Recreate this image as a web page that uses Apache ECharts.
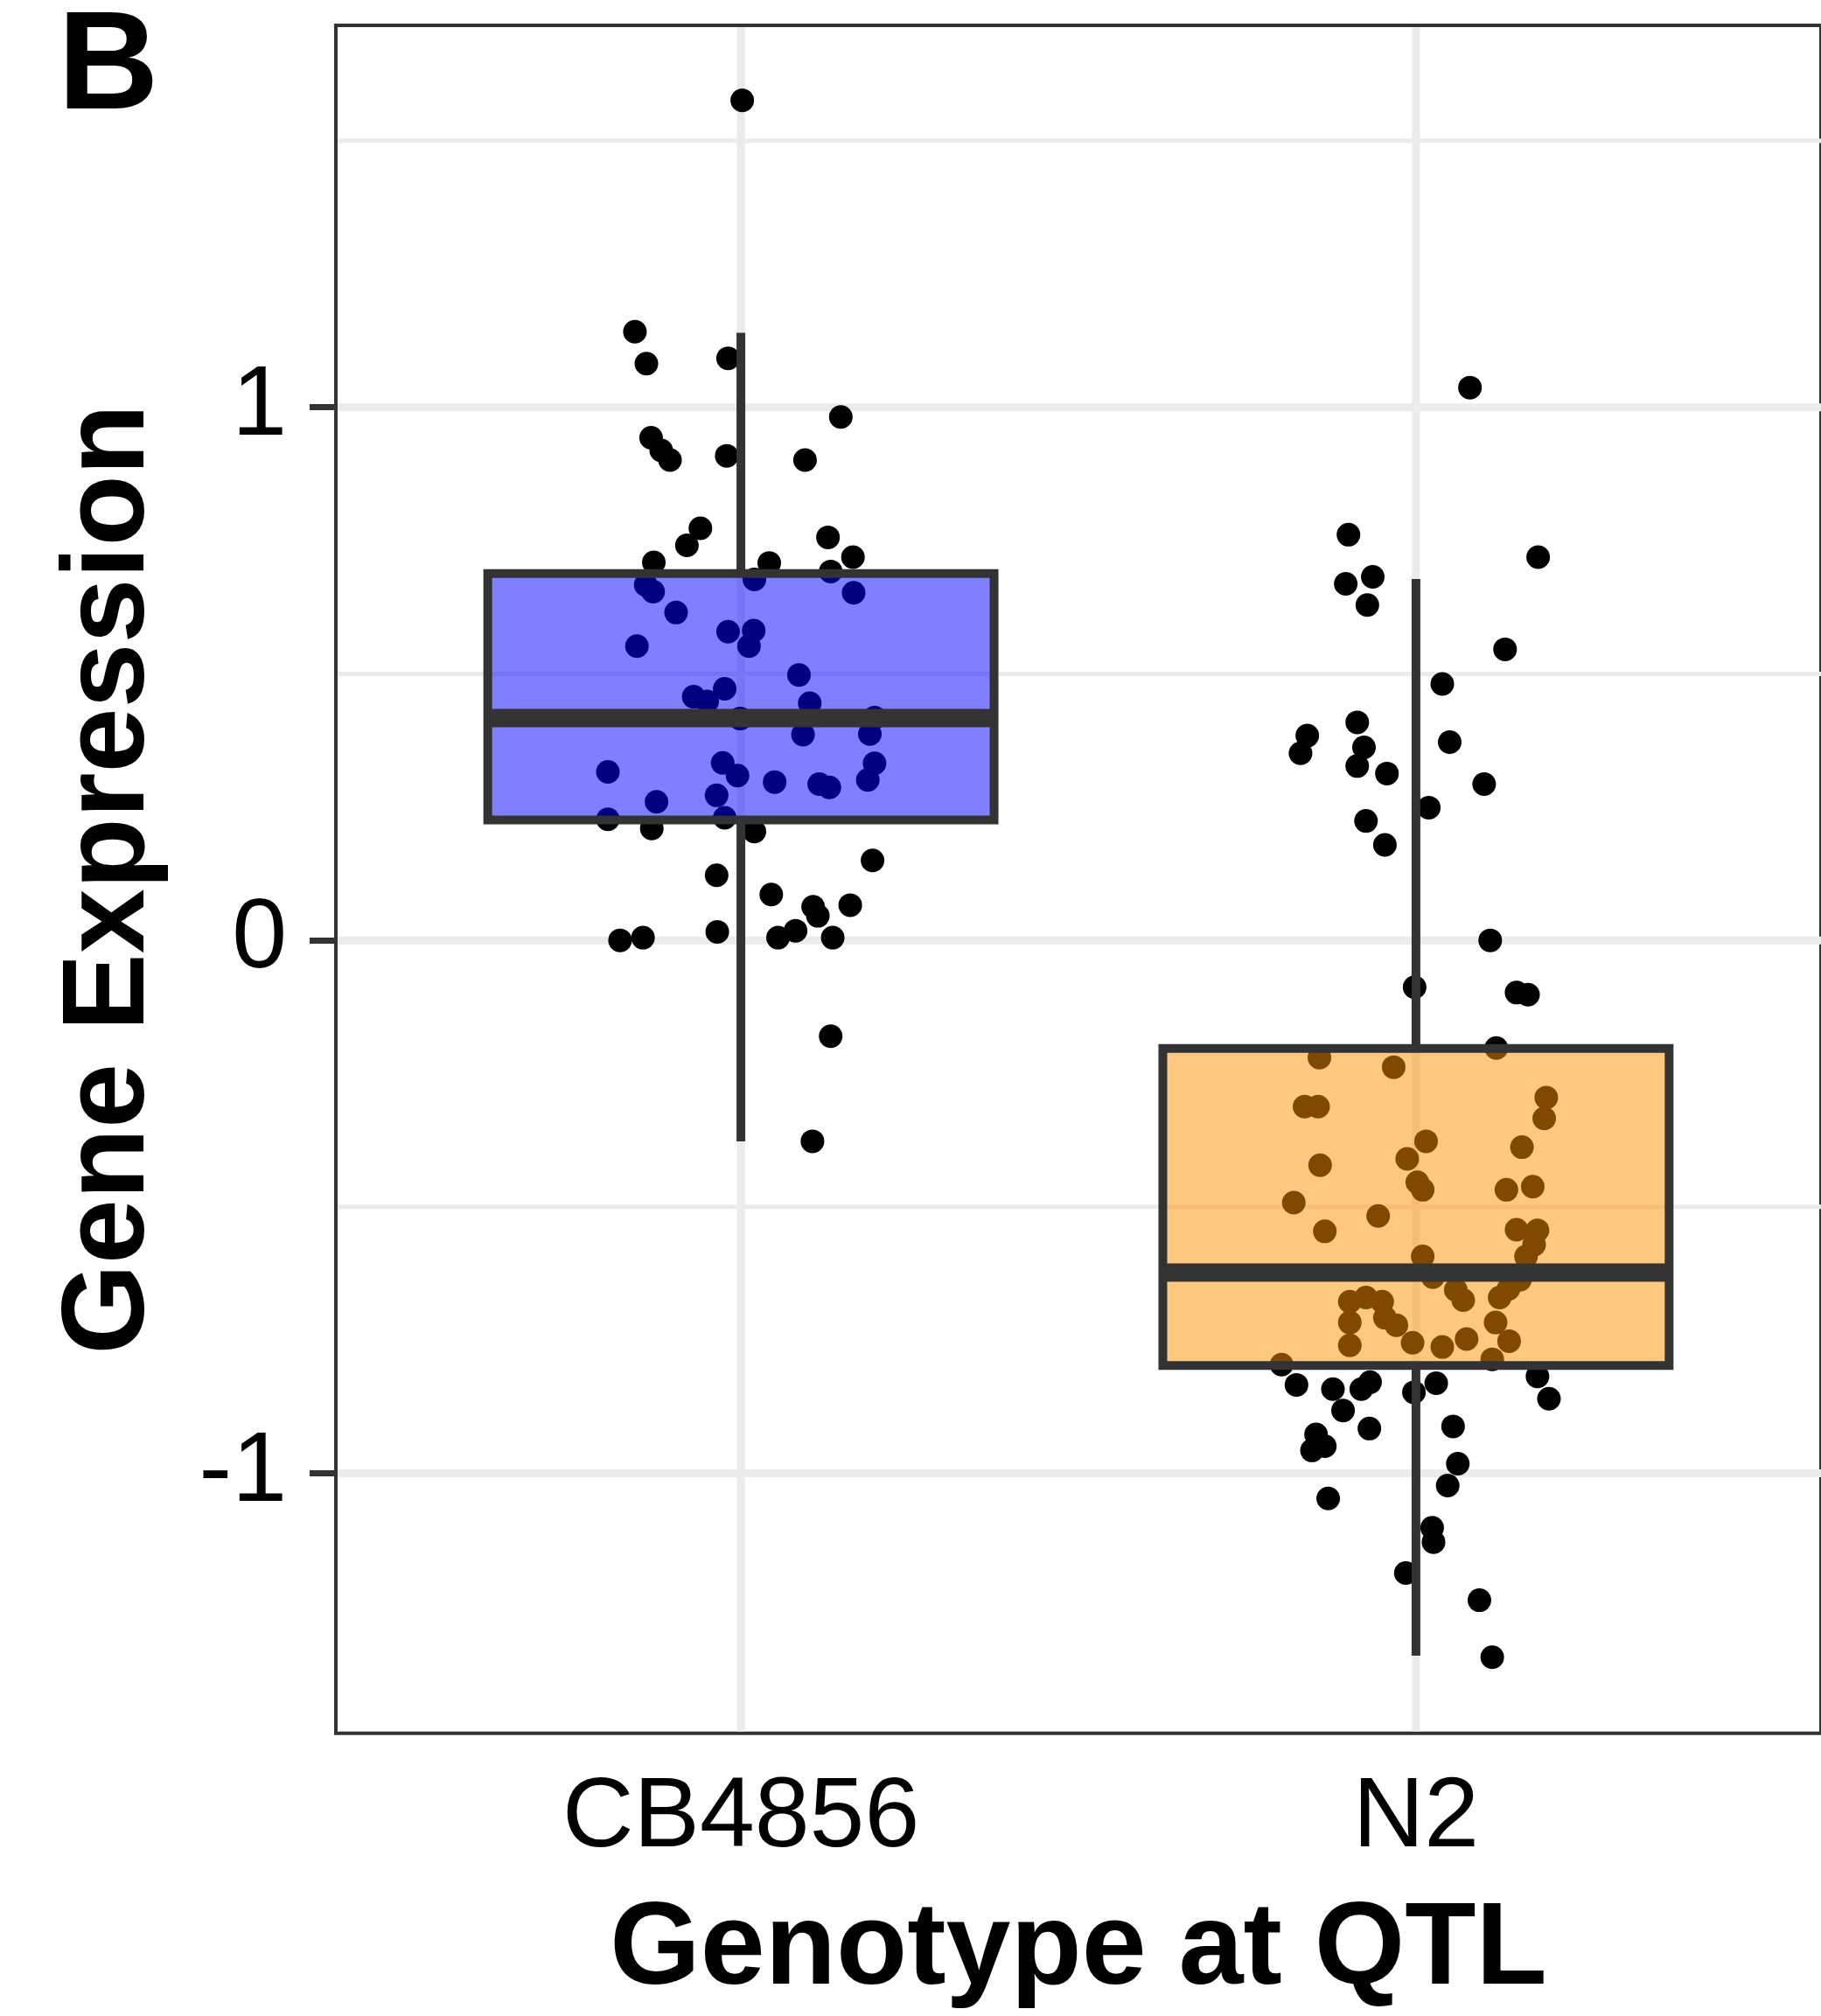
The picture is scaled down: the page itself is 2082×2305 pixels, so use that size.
<!DOCTYPE html>
<html><head><meta charset="utf-8">
<script src="https://cdn.jsdelivr.net/npm/echarts@6/dist/echarts.min.js"></script>
<style>html,body{margin:0;padding:0;background:#fff}#c{width:2082px;height:2305px}</style>
</head><body><div id="c"></div>
<script>
const categories = ['CB4856', 'N2'];
const xTickValues = [1, 2];
const yTickValues = [-1, 0, 1];
const yMinorValues = [-0.5, 0.5, 1.5];
// [lower whisker, Q1, median, Q3, upper whisker]
const cbBox = [-0.377, 0.226, 0.417, 0.688, 1.140];
const n2Box = [-1.342, -0.7975, -0.6235, -0.203, 0.678];
// [horizontal jitter from category centre, gene expression]
const cbPoints = [
  [0.002, 1.576], [-0.157, 1.142], [-0.140, 1.082], [-0.019, 1.092], [0.148, 0.982],
  [-0.133, 0.943], [-0.118, 0.919], [-0.105, 0.901], [-0.021, 0.909], [0.095, 0.901],
  [-0.060, 0.773], [-0.080, 0.741], [-0.129, 0.709], [0.042, 0.708], [0.129, 0.756],
  [0.166, 0.719], [0.133, 0.692], [-0.141, 0.667], [-0.130, 0.654], [0.020, 0.677],
  [0.167, 0.652], [-0.096, 0.615], [-0.019, 0.579], [0.019, 0.581], [0.012, 0.552],
  [-0.154, 0.552], [0.086, 0.498], [-0.024, 0.472], [-0.070, 0.457], [-0.050, 0.448],
  [0.102, 0.445], [-0.001, 0.416], [0.198, 0.418], [0.092, 0.386], [0.191, 0.387],
  [-0.027, 0.333], [-0.005, 0.309], [0.198, 0.332], [0.188, 0.301], [-0.197, 0.316],
  [0.050, 0.297], [0.116, 0.293], [0.131, 0.287], [-0.125, 0.260], [-0.036, 0.272],
  [-0.197, 0.227], [-0.132, 0.210], [-0.024, 0.230], [0.020, 0.204], [0.195, 0.150],
  [-0.036, 0.122], [0.045, 0.086], [0.107, 0.063], [0.114, 0.046], [0.162, 0.066],
  [-0.179, 0.000], [-0.145, 0.005], [-0.035, 0.016], [0.055, 0.005], [0.081, 0.018],
  [0.136, 0.005], [0.133, -0.180], [0.106, -0.377]
];
const n2Points = [
  [0.080, 1.037], [-0.100, 0.761], [0.181, 0.719], [-0.104, 0.669], [-0.064, 0.682],
  [-0.072, 0.629], [0.132, 0.546], [0.039, 0.481], [-0.087, 0.409], [-0.161, 0.384],
  [-0.171, 0.351], [-0.077, 0.362], [-0.087, 0.327], [-0.043, 0.313], [0.050, 0.372],
  [0.101, 0.293], [0.019, 0.249], [-0.074, 0.224], [-0.046, 0.179], [0.110, 0.000],
  [-0.002, -0.088], [0.149, -0.098], [0.166, -0.102], [0.119, -0.202], [-0.143, -0.220],
  [-0.033, -0.238], [-0.165, -0.312], [-0.145, -0.312], [0.193, -0.295], [0.190, -0.334],
  [0.015, -0.377], [-0.013, -0.410], [0.157, -0.388], [-0.142, -0.422], [0.002, -0.454],
  [0.010, -0.468], [0.134, -0.468], [0.173, -0.462], [-0.181, -0.492], [-0.056, -0.517],
  [-0.135, -0.546], [0.149, -0.543], [0.180, -0.544], [0.175, -0.571], [0.163, -0.593],
  [0.010, -0.593], [0.025, -0.632], [0.154, -0.637], [0.059, -0.656], [0.070, -0.675],
  [0.137, -0.654], [0.124, -0.670], [-0.098, -0.678], [-0.074, -0.670], [-0.050, -0.678],
  [-0.098, -0.717], [-0.046, -0.708], [-0.029, -0.722], [-0.005, -0.755], [0.039, -0.763],
  [0.075, -0.748], [0.118, -0.717], [0.138, -0.752], [-0.098, -0.760], [0.113, -0.786],
  [-0.199, -0.796], [-0.177, -0.834], [-0.123, -0.842], [-0.068, -0.829], [-0.081, -0.842],
  [-0.108, -0.882], [-0.069, -0.916], [-0.003, -0.848], [0.030, -0.831], [0.180, -0.818],
  [0.197, -0.860], [0.055, -0.912], [-0.148, -0.927], [-0.135, -0.949], [-0.154, -0.957],
  [-0.130, -1.047], [0.062, -0.982], [0.047, -1.023], [0.024, -1.102], [0.026, -1.129],
  [-0.015, -1.187], [0.094, -1.238], [0.113, -1.345]
];

const boxFills = ['rgba(0,0,255,0.5)', 'rgba(255,145,2,0.5)'];
const FONT = '"Liberation Sans", Arial, Helvetica, sans-serif';
const LINE = '#333333';
const GRIDC = '#EBEBEB';
const X_MIN = 0.4, X_MAX = 2.6;
const Y_MIN = -1.4876, Y_MAX = 1.7166;

const chart = echarts.init(document.getElementById('c'), null, {renderer: 'canvas'});

function gridLineSeries(values, horizontal, width) {
  return {
    type: 'custom', z: 1, silent: true,
    data: values.map(v => [v]),
    renderItem: function (params, api) {
      const v = api.value(0);
      let p1, p2;
      if (horizontal) { p1 = api.coord([X_MIN, v]); p2 = api.coord([X_MAX, v]); p1[0] += 2; }
      else { p1 = api.coord([v, Y_MAX]); p2 = api.coord([v, Y_MIN]); p1[1] += 2; p2[1] -= 2; }
      return {type: 'line', shape: {x1: p1[0], y1: p1[1], x2: p2[0], y2: p2[1]},
              style: {stroke: GRIDC, lineWidth: width}};
    }
  };
}

const toXY = (pts, c) => pts.map(p => [c + p[0], p[1]]);

const option = {
  animation: false,
  backgroundColor: '#ffffff',
  grid: {left: 384, top: 29, width: 1702, height: 1952.7, show: true,
         borderColor: LINE, borderWidth: 4, backgroundColor: '#ffffff', containLabel: false},
  xAxis: {
    type: 'value', min: X_MIN, max: X_MAX,
    name: 'Genotype at QTL', nameLocation: 'middle', nameGap: 183,
    nameTextStyle: {fontSize: 133, fontWeight: 'bold', color: '#000', fontFamily: FONT},
    axisLine: {show: false},
    axisTick: {show: true, length: 30, customValues: xTickValues, lineStyle: {color: LINE, width: 7}},
    axisLabel: {show: true, customValues: xTickValues, margin: 42, fontSize: 113, color: '#000', fontFamily: FONT,
                formatter: v => categories[Math.round(v) - 1]},
    splitLine: {show: false}
  },
  yAxis: {
    type: 'value', min: Y_MIN, max: Y_MAX,
    name: 'Gene Expression', nameLocation: 'middle', nameGap: 190, nameRotate: 90,
    nameTextStyle: {fontSize: 133, fontWeight: 'bold', color: '#000', fontFamily: FONT},
    axisLine: {show: false},
    axisTick: {show: true, length: 30, customValues: yTickValues, lineStyle: {color: LINE, width: 7}},
    axisLabel: {show: true, customValues: yTickValues, margin: 56, fontSize: 113, color: '#000', fontFamily: FONT,
                formatter: v => String(Math.round(v))},
    splitLine: {show: false}
  },
  graphic: [{type: 'text', left: 66, top: 0, z: 10,
             style: {text: 'B', font: 'bold 160px ' + FONT, fill: '#000'}}],
  series: [
    gridLineSeries(yMinorValues, true, 5),
    gridLineSeries(yTickValues, true, 9),
    gridLineSeries(xTickValues, false, 9),
    {type: 'scatter', z: 3, symbol: 'circle', symbolSize: 27, silent: true,
     itemStyle: {color: '#000', opacity: 1}, data: toXY(cbPoints, 1)},
    {type: 'scatter', z: 3, symbol: 'circle', symbolSize: 27, silent: true,
     itemStyle: {color: '#000', opacity: 1}, data: toXY(n2Points, 2)},
    {type: 'custom', z: 5, silent: true,
     data: [[1].concat(cbBox), [2].concat(n2Box)],
     renderItem: function (params, api) {
       const x = api.value(0);
       const lo = api.value(1), q1 = api.value(2), med = api.value(3), q3 = api.value(4), hi = api.value(5);
       const cTop = api.coord([x, hi]), cQ3 = api.coord([x, q3]), cQ1 = api.coord([x, q1]), cLo = api.coord([x, lo]);
       const l = api.coord([x - 0.375, med]), r = api.coord([x + 0.375, med]);
       return {type: 'group', children: [
         {type: 'line', shape: {x1: cTop[0], y1: cTop[1], x2: cQ3[0], y2: cQ3[1]}, style: {stroke: LINE, lineWidth: 10}},
         {type: 'line', shape: {x1: cQ1[0], y1: cQ1[1], x2: cLo[0], y2: cLo[1]}, style: {stroke: LINE, lineWidth: 10}},
         {type: 'rect', shape: {x: l[0], y: cQ3[1], width: r[0] - l[0], height: cQ1[1] - cQ3[1]},
          style: {fill: boxFills[params.dataIndex], stroke: LINE, lineWidth: 10, lineJoin: 'miter'}},
         {type: 'line', shape: {x1: l[0], y1: l[1], x2: r[0], y2: r[1]}, style: {stroke: LINE, lineWidth: 21}}
       ]};
     }}
  ]
};
chart.setOption(option);
</script></body></html>
